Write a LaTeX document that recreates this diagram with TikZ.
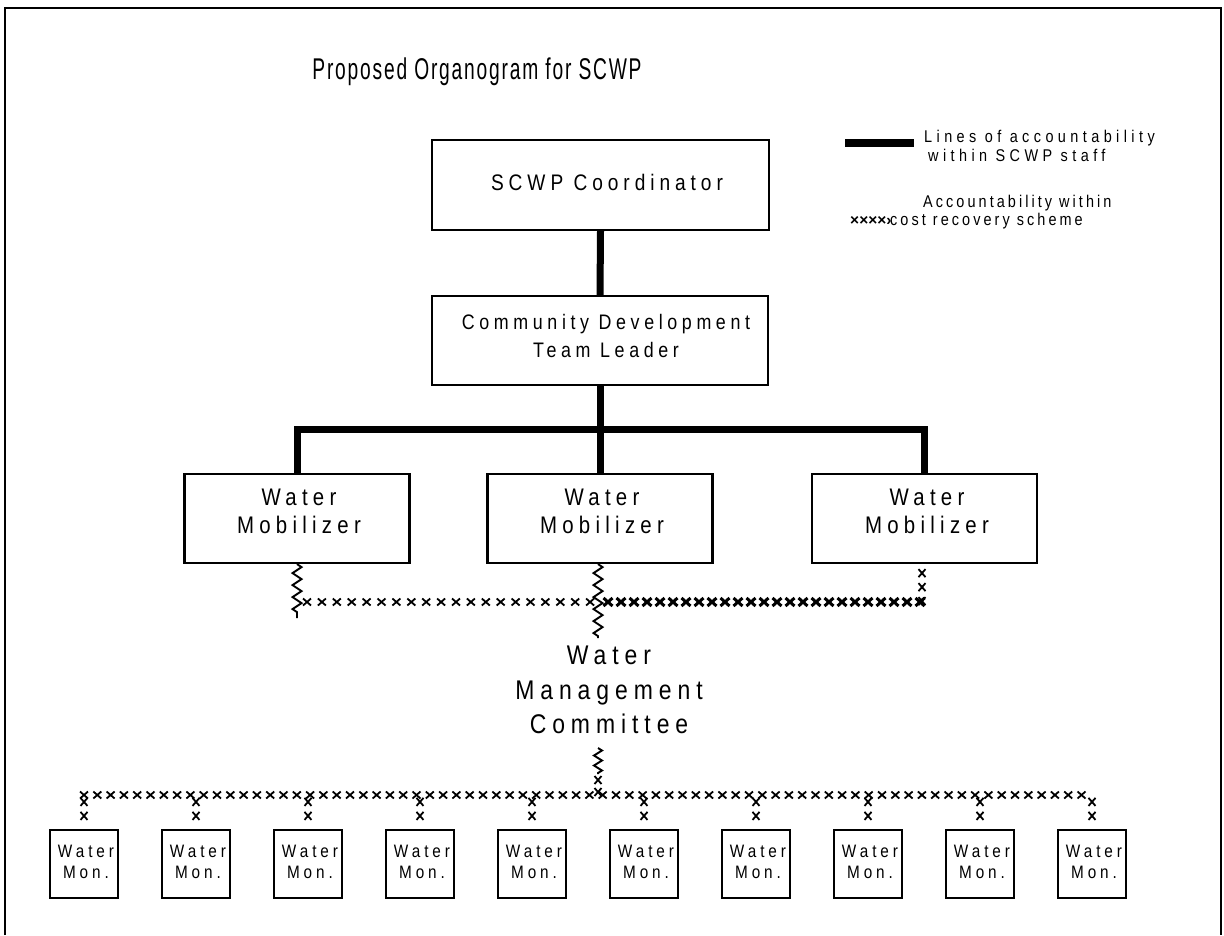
\documentclass[tikz,border=0pt]{standalone}
\usepackage{fontspec}
\setmainfont{Liberation Sans}
\newfontfamily\fA[LetterSpace=22,FakeStretch=0.85]{Liberation Sans}
\newfontfamily\fL[LetterSpace=26,FakeStretch=0.85]{Liberation Sans}
\newfontfamily\fM[LetterSpace=18,FakeStretch=0.85]{Liberation Sans}
\newfontfamily\fT[LetterSpace=6,FakeStretch=0.64]{Liberation Sans}
\usetikzlibrary{calc,decorations.pathmorphing,decorations.markings}
\tikzset{
  boxst/.style={draw, line width=2.2pt, inner sep=0pt},
  txt/.style={align=center, inner sep=0pt},
  thickln/.style={line width=7pt},
  xmarks/.style={decorate, decoration={markings,
      mark=between positions 0 and 1 step #1 with {\draw[line width=1.8pt] (-4pt,-3.5pt)--(4pt,3.5pt) (-4pt,3.5pt)--(4pt,-3.5pt);}}},
  xmarks/.default=15pt,
  bxmarks/.style={decorate, decoration={markings,
      mark=between positions 0 and 1 step 13pt with {\draw[line width=3pt] (-4.5pt,-4pt)--(4.5pt,4pt) (-4.5pt,4pt)--(4.5pt,-4pt);}}},
  zz/.style={decorate, decoration={zigzag, segment length=12pt, amplitude=4.5pt}, line width=1.9pt},
  mob/.style={boxst, minimum width=225pt, minimum height=89pt},
  mobt/.style={txt, font=\fA\fontsize{24}{28}\selectfont},
  mon/.style={boxst, minimum width=68pt, minimum height=68pt},
  mont/.style={txt, font=\fA\fontsize{18}{21}\selectfont},
}
\begin{document}
\begin{tikzpicture}[x=1pt,y=-1pt]
\useasboundingbox (0,0) rectangle (1224,935);
% frame
\draw[line width=2.8pt] (5,935) -- (5,8) -- (1221,8) -- (1221,935);
% title
\node[font=\fT\fontsize{30}{32}\selectfont] (title) at (477,72) {Proposed Organogram for SCWP};
% top boxes
\node[boxst, minimum width=337pt, minimum height=90pt] (coord) at (600.5,185) {};
\node[txt, font=\fA\fontsize{22.5}{28}\selectfont] (coordt) at (607,182) {SCWP Coordinator};
\node[boxst, minimum width=336pt, minimum height=89pt] (cdtl) at (600,340.5) {};
\node[txt, font=\fA\fontsize{21}{28}\selectfont] (cdtlt) at (606,336) {Community Development\\Team Leader};
% mobilizers
\node[mob] (m1) at (297,518.5) {};
\node[mob] (m2) at (600,518.5) {};
\node[mob] (m3) at (924.5,518.5) {};
\node[mobt] (m1t) at (299,511) {Water\\Mobilizer};
\node[mobt] (m2t) at (602,511) {Water\\Mobilizer};
\node[mobt] (m3t) at (927,511) {Water\\Mobilizer};
% thick lines
\draw[thickln] (coord.south) -- (cdtl.north);
\draw[thickln] (cdtl.south) -- (m2.north);
\coordinate (bar) at (600,429);
\draw[thickln, line join=miter] (m1.north) -- (m1.north |- bar) -- (m3.north |- bar) -- (m3.north);
% committee
\node[txt, font=\fA\fontsize{27}{34.5}\selectfont] (wmc) at (609,690) {Water\\Management\\Committee};
% cost recovery connectors (upper)
\coordinate (jL) at (297,602);
\coordinate (jM) at (598,602);
\coordinate (jR) at (922,602);
\coordinate (zL) at (297,618);
\coordinate (zM) at (598,638);
\draw[zz] (m1.south) -- (zL);
\draw[zz] (m2.south -| jM) -- (zM);
\path[xmarks=14pt] (m3.south -| jR) ++(0,9) -- (jR);
\path[xmarks=14.9pt] (jL) ++(10,0) -- (jM);
\path[bxmarks] (jM) ++(10,0) -- (jR);
% lower connectors
\coordinate (wj) at (598,795);
\coordinate (wz) at (598,774);
\draw[zz, decoration={segment length=10pt, amplitude=4pt}] (598,748) -- (wz);
\path[xmarks=12pt] (wz) ++(0,6) -- (wj);
\foreach \i in {0,...,9}{
  \node[mon] (w\i) at ({84+112*\i},864) {};
  \node[mont] (w\i t) at ({86+112*\i},862) {Water\\Mon.};
  \path[xmarks=14pt] ($(w\i.north)+(0,-27)$) -- ($(w\i.north)+(0,-9)$);
}
\coordinate (bl) at (84,795);
\coordinate (br) at (1092,795);
\path[xmarks=13.3pt] (bl) -- (br);
% legend
\coordinate (lgA) at (845,143);
\coordinate (lgB) at (914,143);
\draw[line width=8pt] (lgA) -- (lgB);
\node[anchor=west, align=left, inner sep=0pt, font=\fL\fontsize{17}{19}\selectfont] (lg1) at (924,146) {Lines of accountability\\\hspace*{4pt}within SCWP staff};
\node[anchor=west, inner sep=0pt, font=\fM\fontsize{17}{19}\selectfont] (lg2a) at (923,203) {Accountability within};
\node[anchor=west, inner sep=0pt, font=\bfseries\fontsize{15.5}{18}\selectfont] (lg2s) at (850,221) {\char"D7\char"D7\char"D7\char"D7\char"203A};
\node[anchor=west, inner sep=0pt, font=\fM\fontsize{17}{19}\selectfont] (lg2b) at (890,221) {cost recovery scheme};
\end{tikzpicture}
\end{document}
